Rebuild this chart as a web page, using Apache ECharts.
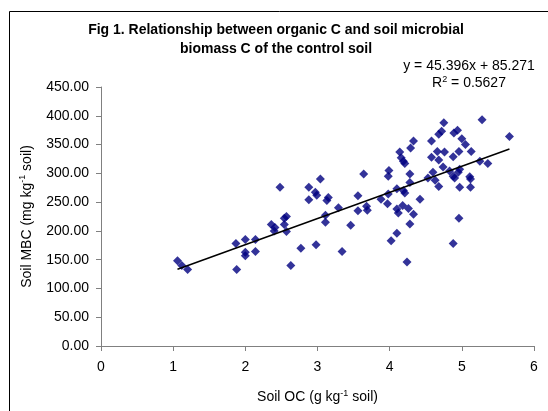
<!DOCTYPE html>
<html>
<head>
<meta charset="utf-8">
<title>Soil OC vs MBC</title>
<script src="https://cdn.jsdelivr.net/npm/echarts@6.0.0/dist/echarts.min.js"></script>
<style>
  html, body { margin: 0; padding: 0; background: #fff; }
  #myChart { width: 548px; height: 411px; }
</style>
</head>
<body>
<div id="myChart"></div>
<script>
// Soil OC (g kg-1 soil)
let oc_list = [
  1.06, 1.12, 1.20, 1.87, 1.88, 2.00, 2.00, 2.00, 2.14, 2.14,
  2.36, 2.41, 2.40, 2.54, 2.57, 2.54, 2.57, 2.63, 2.48, 2.77,
  2.88, 2.88, 2.97, 2.99, 3.04, 2.98, 3.15, 3.13, 3.29, 3.11,
  3.11, 3.34, 3.46, 3.56, 3.56, 3.68, 3.69, 3.64, 3.88, 3.98,
  3.97, 3.99, 3.98, 4.10, 4.19, 4.21, 4.28, 4.28, 4.14, 4.16,
  4.19, 4.21, 4.29, 4.33, 4.10, 4.12, 4.18, 4.26, 4.33, 4.28,
  4.10, 4.02, 4.24, 4.42, 5.28, 4.75, 4.72, 4.68, 4.89, 4.94,
  5.00, 5.05, 5.13, 4.96, 4.88, 4.58, 4.66, 4.76, 4.58, 4.68,
  5.25, 5.36, 4.74, 4.60, 4.83, 4.88, 4.90, 4.97, 4.95, 5.11,
  5.12, 4.53, 4.63, 4.68, 4.97, 5.12, 4.96, 4.88, 5.66
]
// Soil MBC (mg kg-1 soil)
let mbc_list = [
  148, 140, 133, 178, 133, 185, 163, 157, 185, 164,
  211, 206, 200, 211, 225, 222, 199, 140, 276, 170,
  276, 254, 267, 262, 290, 176, 258, 253, 240, 227,
  215, 164, 210, 261, 235, 243, 236, 299, 255, 264,
  247, 305, 295, 273, 270, 266, 299, 284, 337, 327,
  321, 317, 344, 356, 238, 231, 244, 239, 229, 212,
  196, 183, 146, 255, 393, 388, 373, 368, 370, 375,
  360, 350, 338, 338, 329, 356, 338, 337, 328, 323,
  321, 317, 311, 302, 304, 295, 292, 307, 302, 294,
  290, 292, 288, 277, 276, 276, 222, 178, 364
]
// linear trendline shown on the chart
let slope = 45.396
let intercept = 85.271

let points = oc_list.map((x, i) => [x, mbc_list[i]])
let x_min = Math.min(...oc_list)
let x_max = Math.max(...oc_list)
let trend = [
  [x_min, slope * x_min + intercept],
  [x_max, slope * x_max + intercept]
]

let font = 'Liberation Sans, Arial, sans-serif'
// superscript style for rich text
let rich14 = {
  n: { fontFamily: font, fontSize: 14, fontWeight: 'normal', color: '#000', lineHeight: 17 },
  s: { fontFamily: font, fontSize: 9, fontWeight: 'normal', color: '#000', lineHeight: 17, padding: [0, 0, 8, 0] }
}

let myChart = echarts.init(document.getElementById('myChart'))
let option = {
  backgroundColor: '#fff',
  animation: false,
  title: [
    {
      text: 'Fig 1. Relationship between organic C and soil microbial\nbiomass C of the control soil',
      left: 271,
      top: 16,
      textAlign: 'center',
      textStyle: { fontFamily: font, fontSize: 14, fontWeight: 'bold', color: '#000', lineHeight: 19 }
    },
    {
      text: '{n|y = 45.396x + 85.271}\n{n|R}{s|2}{n| = 0.5627}',
      left: 464,
      top: 53,
      textAlign: 'center',
      textStyle: { fontWeight: 'normal', rich: rich14 }
    }
  ],
  graphic: [
    {
      type: 'rect',
      shape: { x: 9.5, y: 11.5, width: 560, height: 420 },
      style: { fill: 'none', stroke: '#000', lineWidth: 1 },
      silent: true
    }
  ],
  grid: { left: 101, right: 14, top: 87, bottom: 63 },
  xAxis: {
    type: 'value',
    min: 0,
    max: 6,
    interval: 1,
    name: '{n|Soil OC (g kg}{s|-1}{n| soil)}',
    nameLocation: 'middle',
    nameGap: 43,
    nameTextStyle: { rich: rich14 },
    axisLine: { lineStyle: { color: '#808080', width: 1 } },
    axisTick: { length: 5, lineStyle: { color: '#808080' } },
    axisLabel: { fontFamily: font, fontSize: 14, color: '#000', margin: 14 },
    splitLine: { show: false }
  },
  yAxis: {
    type: 'value',
    min: 0,
    max: 450,
    interval: 50,
    name: '{n|Soil MBC (mg kg}{s|-1}{n| soil)}',
    nameLocation: 'middle',
    nameGap: 58,
    nameTextStyle: { rich: rich14 },
    axisLine: { show: true, lineStyle: { color: '#808080', width: 1 } },
    axisTick: { show: true, length: 5, lineStyle: { color: '#808080' } },
    axisLabel: {
      fontFamily: font, fontSize: 14, color: '#000', margin: 12,
      formatter: function (v) { return v.toFixed(2) }
    },
    splitLine: { show: false }
  },
  series: [
    {
      name: 'MBC',
      type: 'scatter',
      symbol: 'diamond',
      symbolSize: 9,
      itemStyle: { color: '#000080' },
      data: points
    },
    {
      name: 'Linear',
      type: 'line',
      symbol: 'none',
      lineStyle: { color: '#000', width: 1.5 },
      data: trend
    }
  ]
}
myChart.setOption(option)
</script>
</body>
</html>
